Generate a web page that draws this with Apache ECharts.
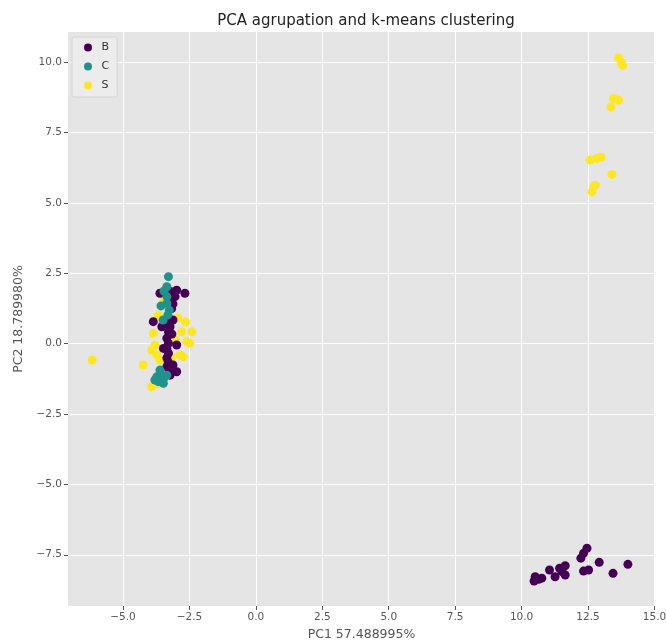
<!DOCTYPE html>
<html>
<head>
<meta charset="utf-8">
<script src="https://cdn.jsdelivr.net/npm/echarts@6/dist/echarts.min.js"></script>
<style>
  html, body { margin: 0; padding: 0; background: #fff; }
  #main { width: 666px; height: 642px; }
</style>
</head>
<body>
<div id="main"></div>
<script>
// cluster B (purple)
var pointsB = [
    [-3.61, 1.79], [-3.42, 1.84], [-3.17, 1.84], [-2.98, 1.90], [-2.67, 1.79],
    [-3.04, 1.67], [-3.23, 1.55], [-3.12, 1.41], [-3.17, 1.25], [-3.86, 0.78],
    [-3.54, 0.60], [-3.35, 0.72], [-3.23, 0.60], [-3.12, 0.84], [-3.29, 0.42],
    [-3.16, 0.34], [-3.35, 0.19], [-3.29, 0.01], [-3.35, -0.17], [-3.48, -0.17],
    [-2.98, -0.05], [-3.29, -0.34], [-3.35, -0.51], [-3.35, -0.82], [-3.17, -0.94],
    [-2.98, -1.00], [-3.23, -1.12], [-3.30, -0.65], [-3.12, -0.76],
    [12.46, -7.27], [12.33, -7.45], [12.23, -7.62], [12.92, -7.77], [14.00, -7.84],
    [13.44, -8.16], [12.33, -8.08], [12.52, -8.04], [11.64, -7.89], [11.43, -7.98],
    [11.05, -8.04], [11.64, -8.22], [11.26, -8.28], [11.52, -8.10], [10.51, -8.28],
    [10.76, -8.33], [10.47, -8.43], [10.64, -8.37]
];
// cluster C (teal)
var pointsC = [
    [-3.29, 2.38], [-3.35, 2.02], [-3.46, 1.87], [-3.35, 1.67], [-3.35, 1.43],
    [-3.26, 1.19], [-3.31, 1.02], [-3.49, 0.84], [-3.57, 1.34],
    [-3.73, -1.18], [-3.54, -1.12], [-3.67, -1.35], [-3.48, -1.41], [-3.35, -1.12],
    [-3.80, -1.29], [-3.61, -0.94], [-3.46, -1.22]
];
// cluster S (yellow)
var pointsS = [
    [-3.48, 1.49], [-3.67, 1.02], [-3.86, 0.37], [-2.79, 0.42], [-2.41, 0.42],
    [-2.60, 0.07], [-2.48, 0.01], [-3.04, 0.13], [-3.92, -0.23], [-3.73, -0.40],
    [-4.24, -0.76], [-2.85, -0.40], [-2.73, -0.47], [-3.61, -0.58], [-3.17, -0.47],
    [-3.92, -1.53], [-3.72, -1.43], [-3.46, 0.62], [-2.93, 0.91], [-2.64, 0.77],
    [-3.80, -0.05], [-6.16, -0.58],
    [13.65, 10.15], [13.75, 10.00], [13.80, 9.88],
    [13.46, 8.71], [13.65, 8.65], [13.36, 8.41],
    [12.58, 6.52], [12.83, 6.58], [12.99, 6.62], [13.40, 6.01],
    [12.71, 5.57], [12.77, 5.63], [12.65, 5.39]
];

var xTicks = [-5, -2.5, 0, 2.5, 5, 7.5, 10, 12.5, 15];
var yTicks = [-7.5, -5, -2.5, 0, 2.5, 5, 7.5, 10];

var tickFmt = function (v) {
    var s = Math.abs(v).toFixed(1);
    return v < 0 ? '\u2212' + s : s;
};

var myChart = echarts.init(document.getElementById('main'));

var axisCommon = {
    type: 'value',
    axisLine: {show: false, onZero: false},
    axisTick: {show: true, length: 4, lineStyle: {color: '#555'}},
    axisLabel: {color: '#555', fontSize: 10.5, fontFamily: 'DejaVu Sans', formatter: tickFmt},
    splitLine: {show: true, lineStyle: {color: '#ffffff', width: 1}},
    nameLocation: 'middle',
    nameTextStyle: {color: '#555', fontSize: 12.5, fontFamily: 'DejaVu Sans'}
};

var option = {
    backgroundColor: '#ffffff',
    animation: false,
    title: {
        text: 'PCA agrupation and k-means clustering',
        left: 361,
        top: 9,
        textAlign: 'center',
        textStyle: {color: '#222', fontSize: 15, fontWeight: 'normal', fontFamily: 'DejaVu Sans'}
    },
    legend: {
        data: ['B', 'C', 'S'],
        orient: 'vertical',
        left: 72,
        top: 37,
        icon: 'circle',
        itemWidth: 17,
        itemHeight: 8,
        itemGap: 8,
        padding: [5, 8, 6, 12],
        backgroundColor: 'rgba(236,236,236,0.9)',
        borderColor: '#d4d4d4',
        borderWidth: 1,
        borderRadius: 2,
        textStyle: {color: '#333', fontSize: 11, fontFamily: 'DejaVu Sans'}
    },
    grid: {
        left: 68,
        right: 11,
        top: 32,
        bottom: 36,
        outerBoundsMode: 'none',
        show: true,
        backgroundColor: '#e5e5e5',
        borderWidth: 0
    },
    xAxis: Object.assign({}, axisCommon, {
        min: -7.07,
        max: 15.02,
        name: 'PC1 57.488995%',
        nameGap: 22,
        axisTick: Object.assign({}, axisCommon.axisTick, {customValues: xTicks}),
        axisLabel: Object.assign({}, axisCommon.axisLabel, {customValues: xTicks, margin: 6})
    }),
    yAxis: Object.assign({}, axisCommon, {
        min: -9.32,
        max: 11.07,
        name: 'PC2 18.789980%',
        nameGap: 41,
        axisTick: Object.assign({}, axisCommon.axisTick, {customValues: yTicks}),
        axisLabel: Object.assign({}, axisCommon.axisLabel, {customValues: yTicks, margin: 6})
    }),
    series: [
        {
            name: 'S',
            type: 'scatter',
            symbolSize: 9,
            itemStyle: {color: '#fde725', opacity: 1},
            data: pointsS
        },
        {
            name: 'B',
            type: 'scatter',
            symbolSize: 9,
            itemStyle: {color: '#440154', opacity: 1},
            data: pointsB
        },
        {
            name: 'C',
            type: 'scatter',
            symbolSize: 9,
            itemStyle: {color: '#21918c', opacity: 1},
            data: pointsC
        }
    ]
};

myChart.setOption(option);
</script>
</body>
</html>
